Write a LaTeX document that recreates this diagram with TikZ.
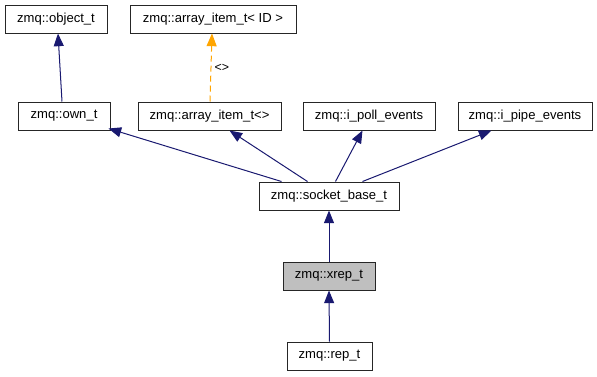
\documentclass[tikz,border=0pt]{standalone}
\usepackage{fontspec}
\setmainfont{Liberation Sans}
\usetikzlibrary{arrows.meta,calc}
\definecolor{edgeblue}{HTML}{191970}
\definecolor{tmplorange}{HTML}{FFA500}
\definecolor{curfill}{HTML}{BFBFBF}
\begin{document}
\begin{tikzpicture}[x=0.75pt,y=-0.75pt,
  classbox/.style={draw=black!85,line width=0.75pt,fill=white,minimum height=21pt,
    inner sep=0pt,font=\fontsize{9.8}{12}\selectfont},
  inherit/.style={draw=edgeblue,line width=0.75pt,
    -{Triangle[length=9.5pt,width=7.5pt,fill=edgeblue]}},
  tmpl/.style={draw=tmplorange,line width=0.75pt,dashed,dash pattern=on 4.5pt off 3pt,
    -{Triangle[length=9.5pt,width=7.5pt,fill=tmplorange]}}]
\useasboundingbox (0,0) rectangle (597,376);
% class boxes
\node[classbox,minimum width=76.5pt] (obj) at (56,19) {zmq::object\_t};
\node[classbox,minimum width=124.5pt] (arrid) at (213,19) {zmq::array\_item\_t< ID >};
\node[classbox,minimum width=69pt] (own) at (64,116) {zmq::own\_t};
\node[classbox,minimum width=107.25pt] (arr) at (209.5,116) {zmq::array\_item\_t<>};
\node[classbox,minimum width=99pt] (poll) at (369,116) {zmq::i\_poll\_events};
\node[classbox,minimum width=100.5pt] (pipe) at (525,116) {zmq::i\_pipe\_events};
\node[classbox,minimum width=105pt] (sb) at (329,196) {zmq::socket\_base\_t};
\node[classbox,minimum width=69pt,fill=curfill] (xrep) at (329,276) {zmq::xrep\_t};
\node[classbox,minimum width=63.75pt] (rep) at (329.5,356) {zmq::rep\_t};
% inheritance edges
\draw[inherit] ($(own.north)+(-2,0)$) -- ($(obj.south)+(2,0)$);
\draw[tmpl] ($(arr.north)+(0.5,0)$) -- node[right=-1pt,font=\fontsize{9.3}{11}\selectfont,text=black]{<>} ($(arrid.south)+(-1,0)$);
\draw[inherit] ($(sb.north west)+(23,0)$) -- ($(own.south east)+(-2,-2)$);
\draw[inherit] ($(sb.north west)+(49,0)$) -- ($(arr.south west)+(92,0)$);
\draw[inherit] ($(sb.north west)+(77,0)$) -- ($(poll.south west)+(60,0)$);
\draw[inherit] ($(sb.north west)+(104,0)$) -- ($(pipe.south west)+(34,0)$);
\draw[inherit] (xrep.north) -- (sb.south);
\draw[inherit] (rep.north) -- (xrep.south);
\end{tikzpicture}
\end{document}
